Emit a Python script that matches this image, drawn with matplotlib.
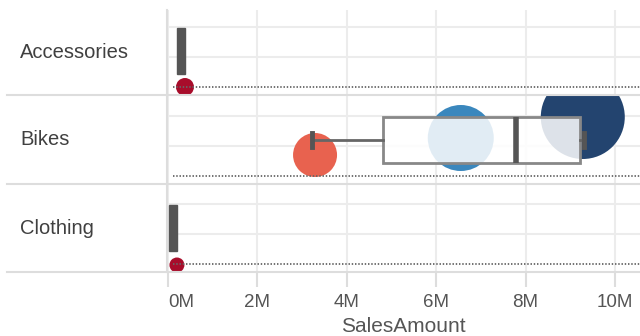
import matplotlib
matplotlib.use('Agg')
from matplotlib import pyplot as plt
from matplotlib.lines import Line2D

plt.rcParams['font.family'] = ['Liberation Sans', 'DejaVu Sans']

# data (values in millions)
categories = ['Accessories', 'Bikes', 'Clothing']
box_low = [0.20, 3.22, 0.02]
box_q1 = [0.20, 4.81, 0.02]
box_med = [0.29, 7.79, 0.11]
box_q3 = [0.38, 9.22, 0.20]
box_high = [0.38, 9.30, 0.20]

# one point per sub-category
point_cat = ['Accessories', 'Bikes', 'Bikes', 'Bikes', 'Clothing']
point_value = [0.38, 3.29, 6.55, 9.28, 0.20]
point_color = ['#A80D2B', '#E8624F', '#3A87BD', '#23446F', '#A80D2B']
point_radius = [9, 22, 33, 42, 7.5]
point_jitter = [8, 29, 46, 67, 7]

ticks = [0, 2, 4, 6, 8, 10]
tick_labels = ['0M', '2M', '4M', '6M', '8M', '10M']

W, H = 640, 336
fig = plt.figure(figsize=(6.4, 3.36), dpi=100)

# panel extents in pixels (top, bottom)
panels = [(10, 95), (95, 184), (184, 272)]
left_px = 167
xmin, xmax = -0.022, 10.56
grid_col = '#ececec'

axes = []
for i, cat in enumerate(categories):
    top, bot = panels[i]
    ax = fig.add_axes([left_px / W, (H - bot) / H, (W - left_px) / W, (bot - top) / H])
    ax.set_xlim(xmin, xmax)
    ax.set_ylim(0, bot - top)
    for s in ax.spines.values():
        s.set_visible(False)
    ax.set_yticks([])
    ax.set_xticks(ticks)
    for t in ticks:
        ax.axvline(t, color=grid_col, lw=1.5, zorder=0.5)
    for gy in [38, 68]:
        ax.axhline(gy, color=grid_col, lw=1.5, zorder=0.5)
    ax.axhline(8, xmin=0.012, color='#666666', lw=1.3,
               linestyle=(0, (0.8, 1.0)), zorder=1)

    # points
    for c, v, col, r, jy in zip(point_cat, point_value, point_color,
                                point_radius, point_jitter):
        if c == cat:
            ax.scatter([v], [jy], s=(2 * r * 0.72) ** 2, color=col,
                       edgecolors='none', zorder=2)

    # narrow boxes collapse into a solid dark bar
    narrow = (box_q3[i] - box_q1[i]) < 0.5
    stats = [{'whislo': box_low[i], 'q1': box_q1[i], 'med': box_med[i],
              'q3': box_q3[i], 'whishi': box_high[i], 'fliers': []}]
    ax.bxp(stats, positions=[44], widths=[46], orientation='horizontal',
           patch_artist=True, showfliers=False, manage_ticks=False,
           showcaps=not narrow, capwidths=[14],
           boxprops=dict(facecolor='#555555' if narrow else (1, 1, 1, 0.85),
                         edgecolor='#555555' if narrow else '#888888',
                         lw=1 if narrow else 2),
           medianprops=dict(color='#555555', lw=1 if narrow else 4),
           whiskerprops=dict(color='#666666', lw=2),
           capprops=dict(color='#555555', lw=3.5))
    for art in ax.patches + ax.lines[-6:]:
        art.set_zorder(3)

    if i < len(categories) - 1:
        ax.tick_params(axis='x', length=0, labelbottom=False)
    else:
        ax.tick_params(axis='x', length=11, width=1.5, color='#dddddd',
                       colors='#555555', labelsize=13.5, pad=5)
        ax.tick_params(axis='x', color='#dddddd')
        ax.set_xticklabels(tick_labels)
        ax.get_xticklabels()[0].set_horizontalalignment('left')
        ax.set_xlabel('SalesAmount', fontsize=15, color='#555555', labelpad=4)

    fig.text(20 / W, 1 - (top + bot) / 2 / H, cat, fontsize=14.5,
             color='#404040', ha='left', va='center')
    axes.append(ax)

# row separators
for y in [95, 184, 272]:
    fig.add_artist(Line2D([7 / W, 1], [1 - y / H, 1 - y / H],
                          color='#dddddd', lw=1.5, transform=fig.transFigure))
fig.add_artist(Line2D([left_px / W, left_px / W], [1 - 272 / H, 1 - 10 / H],
                      color='#dddddd', lw=1.5, transform=fig.transFigure))

fig.savefig('out.png', dpi=100)
